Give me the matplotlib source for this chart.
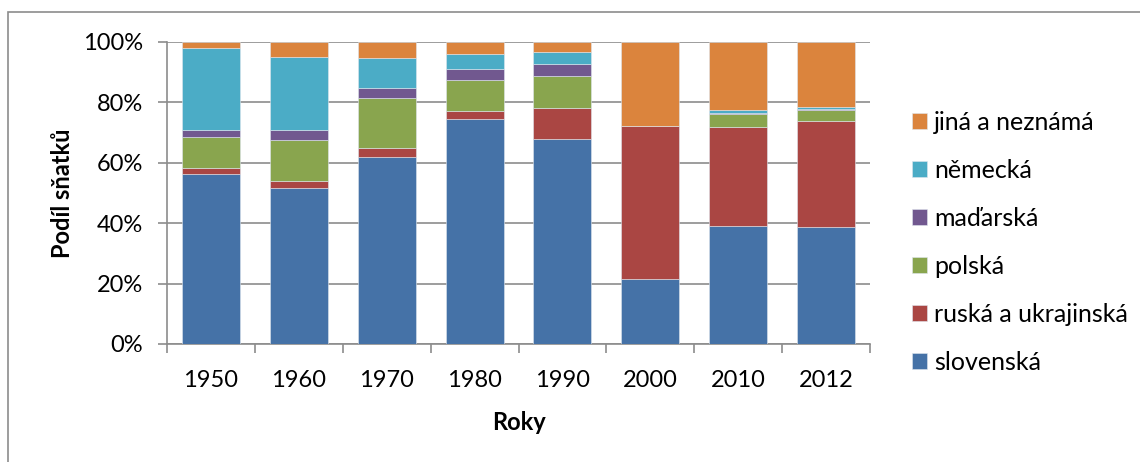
import numpy as np
import matplotlib.pyplot as plt
from matplotlib.patches import Rectangle

plt.rcParams['font.family'] = ['Lato', 'DejaVu Sans']

years = ['1950', '1960', '1970', '1980', '1990', '2000', '2010', '2012']
series = ['slovenská', 'ruská a ukrajinská', 'polská', 'maďarská', 'německá', 'jiná a neznámá']
colors = ['#4572A7', '#AA4643', '#89A54E', '#71588F', '#4BACC6', '#DB843D']

# shares in percent
slovenska = [56.4, 51.6, 62.0, 74.4, 67.8, 21.4, 39.1, 38.7]
ruska = [1.9, 2.5, 2.9, 2.7, 10.2, 50.9, 32.9, 35.2]
polska = [10.3, 13.4, 16.4, 10.3, 10.8, 0.0, 4.3, 3.6]
madarska = [2.4, 3.2, 3.5, 3.7, 3.9, 0.0, 0.2, 0.3]
nemecka = [27.0, 24.4, 10.0, 5.0, 4.1, 0.0, 0.9, 0.8]
jina = [2.0, 4.9, 5.2, 3.9, 3.2, 27.7, 22.6, 21.4]

data = [slovenska, ruska, polska, madarska, nemecka, jina]

fig = plt.figure(figsize=(11.4, 4.62), dpi=100)
W, H = 1140, 462
ax = fig.add_axes([167 / W, 1 - 344 / H, (870 - 167) / W, (344 - 42) / H])

# outer chart frame
fig.patches.append(Rectangle((8 / W, -0.1), 1.2, 1 - 12 / H + 0.1,
                             transform=fig.transFigure, fill=False,
                             edgecolor='#8c8c8c', linewidth=1.2))

x = np.arange(len(years))
bottom = np.zeros(len(years))
handles = []
for vals, name, c in zip(data, series, colors):
    vals = np.array(vals)
    b = ax.bar(x, vals, 0.66, bottom=bottom, color=c, label=name,
               edgecolor='#dfe6ee', linewidth=0.4, zorder=3)
    handles.append(b)
    bottom += vals

ax.set_xlim(-0.5, len(years) - 0.5)
ax.set_ylim(0, 100)
ax.set_yticks(np.arange(0, 101, 20))
ax.set_yticklabels([f'{v}%' for v in range(0, 101, 20)])
ax.set_xticks(x)
ax.set_xticklabels(years)
ax.set_xticks(np.arange(-0.5, len(years)), minor=True)
ax.tick_params(axis='x', which='major', length=0, labelsize=17, pad=19)
ax.tick_params(axis='x', which='minor', length=6.5, color='#8c8c8c', width=1.2)
ax.tick_params(axis='y', length=6.5, color='#8c8c8c', width=1.2, labelsize=17, pad=11)

ax.grid(axis='y', color='#8c8c8c', linewidth=1.2, zorder=0)
for s in ['top', 'right']:
    ax.spines[s].set_visible(False)
for s in ['left', 'bottom']:
    ax.spines[s].set_color('#8c8c8c')
    ax.spines[s].set_linewidth(1.2)

ax.set_ylabel('Podíl sňatků', fontsize=17, fontweight='bold', labelpad=6)
ax.set_xlabel('Roky', fontsize=17, fontweight='bold', labelpad=14)

leg = ax.legend(handles[::-1], series[::-1], loc='center left',
                bbox_to_anchor=(1.045, 0.336), frameon=False, fontsize=18,
                handlelength=0.6, handleheight=0.6, handletextpad=0.3,
                labelspacing=1.0, borderaxespad=0)

fig.savefig('out.png', dpi=100)
